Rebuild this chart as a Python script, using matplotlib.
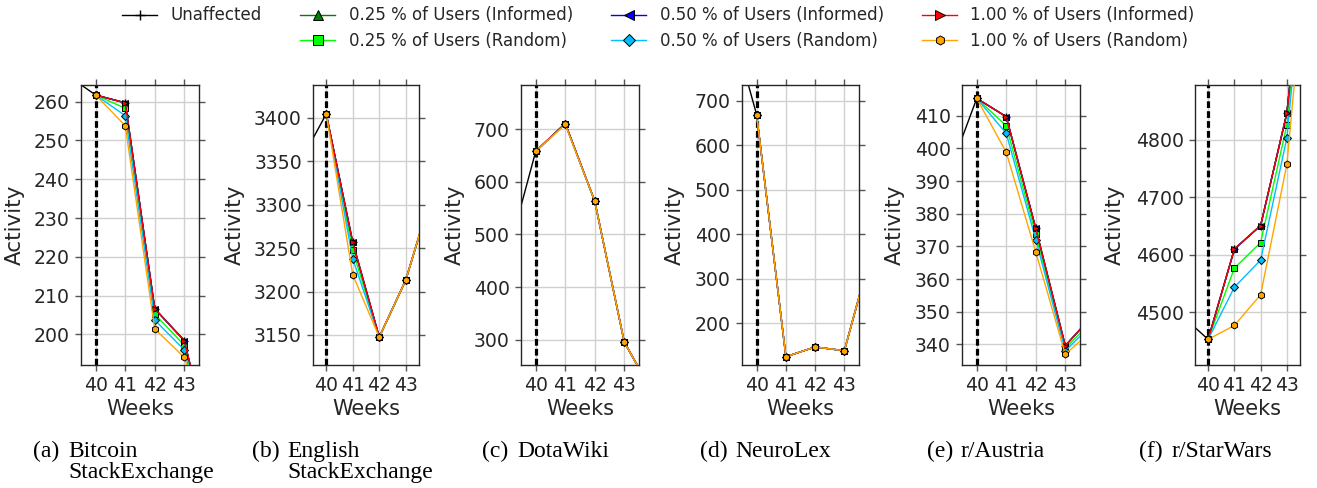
import matplotlib
matplotlib.use("Agg")
import matplotlib.pyplot as plt
from matplotlib.lines import Line2D

# ---------------- data ----------------
weeks_unaffected = [39, 40, 41, 42, 43, 44]
weeks = [40, 41, 42, 43, 44]
xtick_labels = ["40", "41", "42", "43"]

series_labels = ["Unaffected",
                 "0.25 % of Users (Informed)", "0.25 % of Users (Random)",
                 "0.50 % of Users (Informed)", "0.50 % of Users (Random)",
                 "1.00 % of Users (Informed)", "1.00 % of Users (Random)"]

captions = [("(a)", ["Bitcoin", "StackExchange"]), ("(b)", ["English", "StackExchange"]),
            ("(c)", ["DotaWiki"]), ("(d)", ["NeuroLex"]),
            ("(e)", ["r/Austria"]), ("(f)", ["r/StarWars"])]

# Bitcoin StackExchange
a_unaffected = [267, 261.7, 259.7, 206.6, 198.4, 167]
a_inf025 = [261.7, 259.7, 206.6, 198.4, 167]
a_rnd025 = [261.7, 258.3, 205.2, 197.2, 166]
a_inf050 = [261.7, 259.7, 206.6, 198.4, 167]
a_rnd050 = [261.7, 256.4, 203.7, 196.0, 166]
a_inf100 = [261.7, 259.7, 206.6, 198.4, 167]
a_rnd100 = [261.7, 253.8, 201.4, 194.1, 170]
# English StackExchange
b_unaffected = [3348, 3404.2, 3256.4, 3147.5, 3213.2, 3314]
b_inf025 = [3404.2, 3256.4, 3147.5, 3213.2, 3314]
b_rnd025 = [3404.2, 3247.2, 3147.5, 3213.2, 3314]
b_inf050 = [3404.2, 3256.4, 3147.5, 3213.2, 3314]
b_rnd050 = [3404.2, 3237.7, 3147.5, 3213.2, 3314]
b_inf100 = [3404.2, 3256.4, 3147.5, 3213.2, 3314]
b_rnd100 = [3404.2, 3219.3, 3147.5, 3213.2, 3314]
# DotaWiki
c_unaffected = [450, 658.2, 710.8, 563.3, 295.6, 196]
c_inf025 = [658.2, 710.8, 563.3, 295.6, 196]
c_rnd025 = [658.2, 710.3, 563.3, 295.6, 196]
c_inf050 = [658.2, 710.8, 563.3, 295.6, 196]
c_rnd050 = [658.2, 709.8, 563.3, 295.6, 196]
c_inf100 = [658.2, 710.8, 563.3, 295.6, 196]
c_rnd100 = [658.2, 709.0, 563.3, 295.6, 196]
# NeuroLex
d_unaffected = [905, 668.6, 125.3, 147.0, 138.7, 379]
d_inf025 = [668.6, 125.3, 147.0, 138.7, 379]
d_rnd025 = [668.6, 125.3, 147.0, 138.7, 379]
d_inf050 = [668.6, 125.3, 147.0, 138.7, 379]
d_rnd050 = [668.6, 125.3, 147.0, 138.7, 379]
d_inf100 = [668.6, 125.3, 147.0, 138.7, 379]
d_rnd100 = [668.6, 125.3, 147.0, 138.7, 379]
# r/Austria
e_unaffected = [391, 415.3, 409.7, 375.5, 339.6, 349.5]
e_inf025 = [415.3, 409.7, 375.5, 339.6, 349.5]
e_rnd025 = [415.3, 406.9, 373.7, 338.8, 348]
e_inf050 = [415.3, 409.7, 375.5, 339.6, 349.5]
e_rnd050 = [415.3, 404.6, 372.1, 338.0, 347]
e_inf100 = [415.3, 409.7, 375.5, 339.6, 349.5]
e_rnd100 = [415.3, 398.8, 368.3, 337.0, 345]
# r/StarWars
f_unaffected = [4494, 4452.5, 4609.5, 4650.6, 4846.3, 5290]
f_inf025 = [4452.5, 4609.5, 4650.6, 4846.3, 5290]
f_rnd025 = [4452.5, 4576.5, 4621.0, 4825.5, 5290]
f_inf050 = [4452.5, 4609.5, 4650.6, 4846.3, 5290]
f_rnd050 = [4452.5, 4543.4, 4590.4, 4802.9, 5285]
f_inf100 = [4452.5, 4609.5, 4650.6, 4846.3, 5290]
f_rnd100 = [4452.5, 4476.8, 4530.1, 4757.2, 5250]

panels = [
    (a_unaffected, [a_inf025, a_rnd025, a_inf050, a_rnd050, a_inf100, a_rnd100]),
    (b_unaffected, [b_inf025, b_rnd025, b_inf050, b_rnd050, b_inf100, b_rnd100]),
    (c_unaffected, [c_inf025, c_rnd025, c_inf050, c_rnd050, c_inf100, c_rnd100]),
    (d_unaffected, [d_inf025, d_rnd025, d_inf050, d_rnd050, d_inf100, d_rnd100]),
    (e_unaffected, [e_inf025, e_rnd025, e_inf050, e_rnd050, e_inf100, e_rnd100]),
    (f_unaffected, [f_inf025, f_rnd025, f_inf050, f_rnd050, f_inf100, f_rnd100]),
]

# ---------------- layout / style ----------------
W, H = 1317, 488
ylims = [(192.1, 264.3), (3115.5, 3437.5), (252, 784), (106.6, 735.1),
         (333.7, 419.4), (4408, 4895)]
yticks = [range(200, 261, 10), range(3150, 3401, 50), range(300, 701, 100),
          range(200, 701, 100), range(340, 411, 10), range(4500, 4801, 100)]
ax_px = [(81, 118), (313, 106), (521, 118), (742, 117), (962, 118), (1195, 105)]
ylabel_right_px = [25, 245, 465, 685, 905, 1125]
cap_px = [(33, 68), (252, 287), (482, 517), (700, 735), (927, 960), (1139, 1171)]
cap_baselines = [457, 478]

colors = ["green", "#00ff00", "blue", "#00bfff", "red", "orange"]
markers = ["^", "s", "<", "D", ">", "h"]
msizes = [5, 5, 5, 4.5, 5, 5]

txt = "#262626"
plt.rcParams.update({
    "font.family": ["DejaVu Sans"],
    "axes.edgecolor": "#262626",
    "axes.linewidth": 1.0,
    "xtick.color": "#555555",
    "ytick.color": "#555555",
    "xtick.labelcolor": txt,
    "ytick.labelcolor": txt,
})

fig = plt.figure(figsize=(W / 100, H / 100), dpi=100)
top_px, bot_px = 85, 365

for i, (unaff, others) in enumerate(panels):
    left, width = ax_px[i]
    ax = fig.add_axes([left / W, (H - bot_px) / H, width / W, (bot_px - top_px) / H])
    ax.axvline(40, color="black", lw=2.3, ls=(0, (2.1, 1.0)), zorder=1.5)
    ax.plot(weeks_unaffected, unaff, color="black", marker="+", lw=1.0, ms=6,
            zorder=2, label=series_labels[0])
    for j, ys in enumerate(others):
        ax.plot(weeks, ys, color=colors[j], marker=markers[j], lw=1.0, ms=msizes[j],
                mec="black", mew=0.7, zorder=3 + j, label=series_labels[j + 1])
    ax.set_xlim(39.5, 43.5)
    ax.set_ylim(*ylims[i])
    ax.set_xticks([40, 41, 42, 43])
    ax.set_xticklabels(xtick_labels)
    ax.set_yticks(list(yticks[i]))
    ax.grid(True, color="#d0d0d0", lw=1.0, zorder=0)
    ax.set_axisbelow(True)
    ax.tick_params(axis="both", which="both", direction="out", length=4.5, width=1.0,
                   top=True, right=True, labelsize=13.6, pad=3.5)
    ax.set_xlabel("Weeks", fontsize=15, color=txt)
    ax.set_ylabel("Activity", fontsize=15.5, color=txt)
    ax.yaxis.set_label_coords((ylabel_right_px[i] - left) / width, 0.5)
    ax.xaxis.set_label_coords(0.5, (bot_px - 399) / (bot_px - top_px))
    if i == 0:
        handles, labels = ax.get_legend_handles_labels()

    # captions
    cx1, cx2 = cap_px[i]
    fig.text(cx1 / W, (H - cap_baselines[0]) / H, captions[i][0], family="Liberation Serif",
             fontsize=17, va="baseline", ha="left", color="black")
    for k, line in enumerate(captions[i][1]):
        fig.text(cx2 / W, (H - cap_baselines[k]) / H, line, family="Liberation Serif",
                 fontsize=17, va="baseline", ha="left", color="black")

blank = Line2D([], [], color="none")
handles = [handles[0], blank] + handles[1:]
labels = [labels[0], ""] + labels[1:]
fig.legend(handles, labels, loc="upper center", bbox_to_anchor=(0.5, 0.997), ncol=4,
           frameon=False, fontsize=12, handlelength=2.1, handletextpad=0.8,
           columnspacing=2.3, labelspacing=0.45, markerscale=1.3,
           borderaxespad=0.1, borderpad=0.2)
for t in fig.legends[0].get_texts():
    t.set_color(txt)

fig.savefig("out.png", dpi=100)
